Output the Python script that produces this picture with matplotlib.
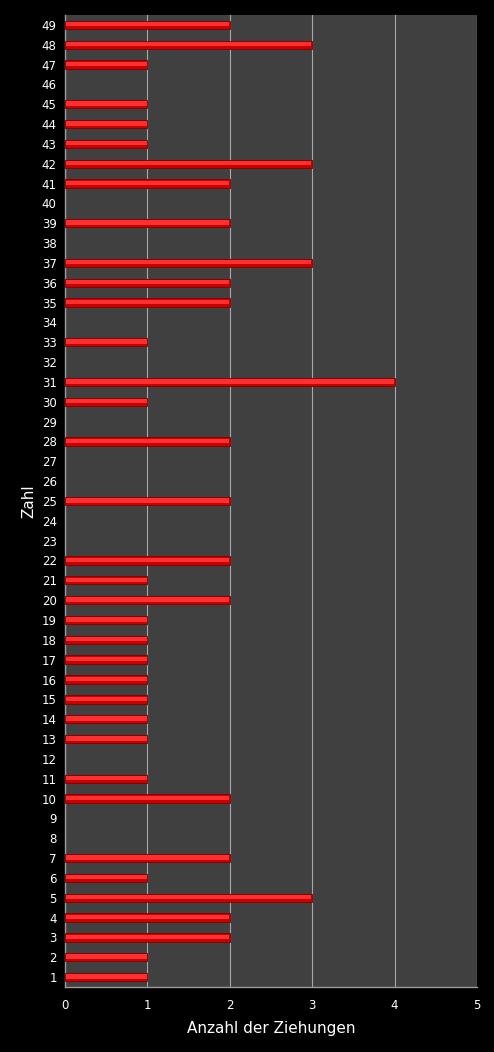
"""Lotto-Ziehungen: Häufigkeit je Zahl als horizontales Balkendiagramm."""
import matplotlib
matplotlib.use("Agg")
import matplotlib.pyplot as plt
import numpy as np

zahlen = list(range(1, 50))
anzahl = [1, 1, 2, 2, 3, 1, 2, 0, 0, 2,
          1, 0, 1, 1, 1, 1, 1, 1, 1, 2,
          1, 2, 0, 0, 2, 0, 0, 2, 0, 1,
          4, 0, 1, 0, 2, 2, 3, 0, 2, 0,
          2, 3, 1, 1, 1, 0, 1, 3, 2]
x_ticks = [0, 1, 2, 3, 4, 5]

fig = plt.figure(figsize=(4.94, 10.52), dpi=100, facecolor="black")
ax = fig.add_axes([0.1316, 0.0618, 0.834, 0.924])
ax.set_facecolor("#404040")

y = np.array(zahlen)
vals = np.array(anzahl)
nz = vals > 0  # zero counts draw nothing
# base bar, darker rim
ax.barh(y[nz], vals[nz], height=0.42, color="#c80000", edgecolor="#800000",
        linewidth=0.6, zorder=3)
# brighter core to fake the 3d cylinder look
ax.barh(y[nz] + 0.03, vals[nz] - 0.02, left=0.01, height=0.22, color="#ff2f2f",
        linewidth=0, zorder=4)

ax.set_xlim(0, 5)
ax.set_ylim(0.5, 49.5)
ax.set_xticks(x_ticks)
ax.set_yticks(zahlen)
ax.tick_params(colors="white", labelsize=8.5, length=0, pad=6)
ax.tick_params(axis="x", pad=9)
ax.xaxis.grid(True, color="#a8a8a8", linewidth=0.8, zorder=1)
ax.set_axisbelow(True)

for side in ("top", "right"):
    ax.spines[side].set_visible(False)
for side in ("left", "bottom"):
    ax.spines[side].set_color("#9a9a9a")
    ax.spines[side].set_linewidth(1.0)

ax.set_xlabel("Anzahl der Ziehungen", color="white", fontsize=11, labelpad=6)
ax.set_ylabel("Zahl", color="white", fontsize=11, labelpad=4)

fig.savefig("out.png", dpi=100, facecolor="black")
